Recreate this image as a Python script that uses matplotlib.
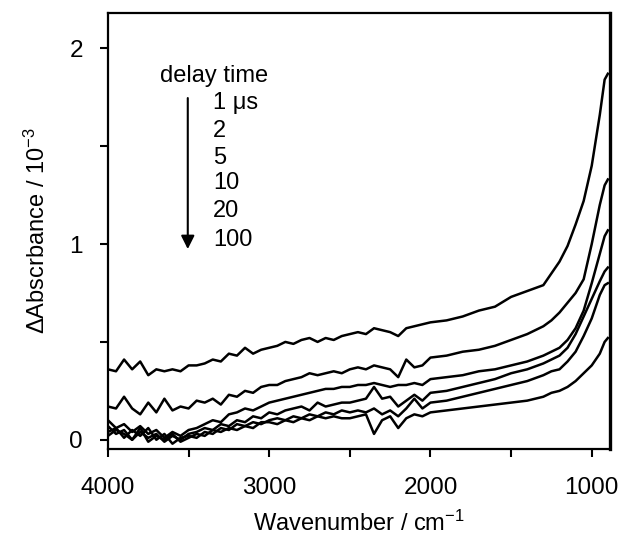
import matplotlib.pyplot as plt
import numpy as np

plt.rcParams['font.family'] = ['Liberation Sans', 'DejaVu Sans']
plt.rcParams['mathtext.default'] = 'regular'

# wavenumber grid (cm-1)
wn = list(range(4000, 1999, -50)) + [1900, 1800, 1700, 1600, 1500, 1400, 1300,
                                      1250, 1200, 1150, 1100, 1050, 1000, 950, 920, 900]

# delta absorbance / 1e-3, one array per delay time
d1us = [.36, .35, .41, .36, .40, .33, .36, .35, .36, .35, .38, .38, .39, .41, .40, .44, .43, .47, .44, .46,
        .47, .48, .50, .49, .51, .52, .50, .52, .51, .53, .54, .55, .54, .57, .56, .55, .53, .57, .58, .59, .60,
        .61, .63, .66, .68, .73, .76, .79, .85, .91, .99, 1.10, 1.22, 1.40, 1.66, 1.84, 1.87]
d2us = [.17, .16, .22, .16, .13, .19, .14, .21, .15, .17, .16, .20, .19, .21, .18, .23, .22, .25, .24, .27,
        .28, .28, .30, .31, .32, .34, .33, .34, .35, .34, .36, .37, .36, .38, .37, .36, .32, .41, .37, .38, .42,
        .43, .45, .46, .48, .51, .54, .58, .61, .65, .70, .75, .82, 1.00, 1.20, 1.30, 1.33]
d5us = [.10, .06, .08, .04, .07, .03, .05, .01, .04, .02, .05, .06, .08, .10, .09, .13, .14, .16, .15, .17,
        .19, .20, .21, .22, .23, .24, .25, .26, .26, .27, .27, .28, .28, .29, .28, .27, .28, .28, .29, .28, .31,
        .32, .33, .35, .36, .38, .40, .43, .45, .47, .51, .57, .66, .80, .95, 1.04, 1.07]
d10us = [.07, .03, .05, .00, .04, .01, .03, -.01, .02, .00, .03, .04, .06, .05, .08, .07, .10, .09, .12, .11,
         .14, .13, .15, .16, .17, .15, .19, .17, .18, .19, .19, .20, .21, .27, .21, .22, .17, .20, .23, .20, .24,
         .25, .27, .29, .31, .34, .36, .39, .41, .43, .47, .54, .63, .72, .81, .86, .88]
d20us = [.04, .06, .01, .05, .02, .06, .00, .03, -.02, .01, .02, .01, .04, .03, .06, .05, .08, .07, .09, .08,
         .10, .11, .10, .12, .11, .13, .12, .14, .13, .15, .14, .15, .14, .16, .13, .15, .12, .16, .21, .16, .19,
         .20, .22, .24, .26, .28, .30, .33, .35, .36, .40, .45, .53, .62, .74, .79, .80]
d100us = [.02, .05, .03, .00, .06, -.01, .02, .00, .03, -.01, .01, .03, .02, .05, .04, .06, .05, .07, .06, .09,
          .09, .08, .10, .09, .11, .10, .12, .11, .12, .11, .11, .12, .13, .03, .10, .12, .06, .11, .13, .12, .14,
          .15, .16, .17, .18, .19, .20, .22, .24, .25, .27, .30, .34, .38, .44, .50, .52]

delays = ["1 \u03bcs", "2", "5", "10", "20", "100"]

fig = plt.figure(figsize=(6.24, 5.44), dpi=100)
ax = fig.add_axes([0.173, 0.175, 0.805, 0.801])

for y in [d1us, d2us, d5us, d10us, d20us, d100us]:
    ax.plot(wn, y, color='black', lw=1.8)

ax.set_xlim(4000, 885)
ax.set_ylim(-0.046, 2.18)
ax.set_xticks([4000, 3000, 2000, 1000])
ax.set_xticks([3500, 2500, 1500], minor=True)
ax.set_yticks([0, 1, 2])
ax.set_yticks([0.5, 1.5], minor=True)
ax.tick_params(which='both', direction='out', length=6, width=1.5, labelsize=17.5)
ax.tick_params(axis='x', pad=14)
ax.tick_params(axis='y', pad=12)
for s in ax.spines.values():
    s.set_linewidth(1.6)
ax.spines['right'].set_linewidth(2.4)

ax.set_xlabel("Wavenumber / cm$^{-1}$", fontsize=17, labelpad=9)
ax.set_ylabel("\u0394Abscrbance / 10$^{-3}$", fontsize=17, labelpad=14)

# delay-time legend with arrow
ax.text(3680, 1.86, "delay time", fontsize=17, va='center', ha='left')
ys = [1.72, 1.58, 1.44, 1.31, 1.17, 1.02]
for lab, yy in zip(delays, ys):
    ax.text(3350, yy, lab, fontsize=17, va='center', ha='left')
ax.annotate("", xy=(3505, 0.96), xytext=(3505, 1.76),
            arrowprops=dict(arrowstyle='-|>', color='black', lw=1.5, mutation_scale=20))

plt.savefig("out.png", dpi=100)
